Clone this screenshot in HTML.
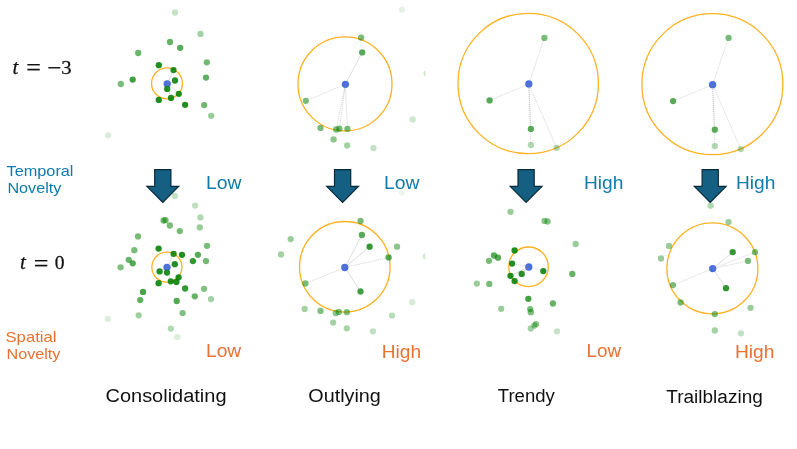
<!DOCTYPE html>
<html lang="en"><head><meta charset="utf-8"><title>Novelty taxonomy</title>
<style>html,body{margin:0;padding:0;background:#fff}svg{display:block}</style></head>
<body>
<svg width="797" height="449" viewBox="0 0 797 449">
<rect width="797" height="449" fill="#fff"/>
<g transform="translate(0,0.3)">
<circle cx="167" cy="83.1" r="15.45" fill="none" stroke="#FFA500" stroke-opacity="0.87" stroke-width="1.3"/>
<circle cx="167.2" cy="83.5" r="3.65" fill="#4169E1" fill-opacity="0.96"/>
<circle cx="345" cy="83.6" r="47" fill="none" stroke="#FFA500" stroke-opacity="0.87" stroke-width="1.3"/>
<circle cx="345.4" cy="84" r="3.65" fill="#4169E1" fill-opacity="0.96"/>
<circle cx="528.2" cy="83.2" r="70.2" fill="none" stroke="#FFA500" stroke-opacity="0.87" stroke-width="1.3"/>
<circle cx="528.8" cy="83.7" r="3.65" fill="#4169E1" fill-opacity="0.96"/>
<circle cx="712.4" cy="83.9" r="70.5" fill="none" stroke="#FFA500" stroke-opacity="0.87" stroke-width="1.3"/>
<circle cx="712.6" cy="84.4" r="3.65" fill="#4169E1" fill-opacity="0.96"/>
<circle cx="166.9" cy="266.8" r="15.05" fill="none" stroke="#FFA500" stroke-opacity="0.87" stroke-width="1.3"/>
<circle cx="167" cy="267" r="3.65" fill="#4169E1" fill-opacity="0.96"/>
<circle cx="344.8" cy="266.5" r="45.3" fill="none" stroke="#FFA500" stroke-opacity="0.87" stroke-width="1.3"/>
<circle cx="344.8" cy="267.2" r="3.65" fill="#4169E1" fill-opacity="0.96"/>
<circle cx="528.5" cy="266.5" r="19.8" fill="none" stroke="#FFA500" stroke-opacity="0.87" stroke-width="1.3"/>
<circle cx="528.8" cy="266.7" r="3.65" fill="#4169E1" fill-opacity="0.96"/>
<circle cx="712.4" cy="268.1" r="45.5" fill="none" stroke="#FFA500" stroke-opacity="0.87" stroke-width="1.3"/>
<circle cx="712.7" cy="268.3" r="3.65" fill="#4169E1" fill-opacity="0.96"/>
<g fill="#008000">
<circle cx="175" cy="12.2" r="3.15" fill-opacity="0.22"/>
<circle cx="200.5" cy="33.6" r="3.15" fill-opacity="0.36"/>
<circle cx="170" cy="41.7" r="3.15" fill-opacity="0.6"/>
<circle cx="180.2" cy="47.5" r="3.15" fill-opacity="0.66"/>
<circle cx="138.2" cy="52.7" r="3.15" fill-opacity="0.58"/>
<circle cx="158.8" cy="64.9" r="3.15" fill-opacity="0.88"/>
<circle cx="173.5" cy="69.8" r="3.15" fill-opacity="0.88"/>
<circle cx="206.8" cy="62" r="3.15" fill-opacity="0.55"/>
<circle cx="206" cy="77.3" r="3.15" fill-opacity="0.62"/>
<circle cx="175" cy="80.2" r="3.15" fill-opacity="0.88"/>
<circle cx="132.7" cy="79.3" r="3.15" fill-opacity="0.75"/>
<circle cx="120.8" cy="83.7" r="3.15" fill-opacity="0.52"/>
<circle cx="167.2" cy="88.6" r="3.15" fill-opacity="0.88"/>
<circle cx="178.8" cy="93.5" r="3.15" fill-opacity="0.88"/>
<circle cx="171" cy="97.6" r="3.15" fill-opacity="0.88"/>
<circle cx="158.8" cy="99.6" r="3.15" fill-opacity="0.88"/>
<circle cx="185.1" cy="104.5" r="3.15" fill-opacity="0.88"/>
<circle cx="204.2" cy="104.8" r="3.15" fill-opacity="0.56"/>
<circle cx="211.2" cy="115.5" r="3.15" fill-opacity="0.4"/>
<circle cx="108.1" cy="135.0" r="3.15" fill-opacity="0.15"/>
<circle cx="401.9" cy="9.3" r="3.15" fill-opacity="0.1"/>
<circle cx="361.1" cy="37.3" r="3.15" fill-opacity="0.53"/>
<circle cx="362.2" cy="52.1" r="3.15" fill-opacity="0.66"/>
<circle cx="305.8" cy="100.5" r="3.15" fill-opacity="0.53"/>
<circle cx="320.5" cy="127.6" r="3.15" fill-opacity="0.53"/>
<circle cx="336.2" cy="129.2" r="3.15" fill-opacity="0.53"/>
<circle cx="339.4" cy="128.4" r="3.15" fill-opacity="0.53"/>
<circle cx="347.4" cy="128.5" r="3.15" fill-opacity="0.53"/>
<circle cx="333.6" cy="139.1" r="3.15" fill-opacity="0.46"/>
<circle cx="347.2" cy="145.2" r="3.15" fill-opacity="0.36"/>
<circle cx="373.5" cy="147.8" r="3.15" fill-opacity="0.24"/>
<circle cx="412.6" cy="119.1" r="3.15" fill-opacity="0.19"/>
<circle cx="401.8" cy="192.0" r="3.15" fill-opacity="0.07"/>
<circle cx="544.4" cy="37.6" r="3.15" fill-opacity="0.53"/>
<circle cx="489.6" cy="100.1" r="3.15" fill-opacity="0.66"/>
<circle cx="530.9" cy="128.6" r="3.15" fill-opacity="0.66"/>
<circle cx="530.9" cy="144.7" r="3.15" fill-opacity="0.31"/>
<circle cx="556.6" cy="147.5" r="3.15" fill-opacity="0.31"/>
<circle cx="728.6" cy="37.6" r="3.15" fill-opacity="0.53"/>
<circle cx="673.1" cy="100.8" r="3.15" fill-opacity="0.66"/>
<circle cx="714.8" cy="129.4" r="3.15" fill-opacity="0.66"/>
<circle cx="714.8" cy="145.8" r="3.15" fill-opacity="0.31"/>
<circle cx="740.8" cy="148.8" r="3.15" fill-opacity="0.31"/>
<circle cx="174.8" cy="195.6" r="3.15" fill-opacity="0.24"/>
<circle cx="195.1" cy="205.3" r="3.15" fill-opacity="0.25"/>
<circle cx="200.4" cy="217.1" r="3.15" fill-opacity="0.31"/>
<circle cx="199.8" cy="227.1" r="3.15" fill-opacity="0.4"/>
<circle cx="163.6" cy="220.2" r="3.15" fill-opacity="0.53"/>
<circle cx="165.5" cy="219.9" r="3.15" fill-opacity="0.53"/>
<circle cx="169.8" cy="225.2" r="3.15" fill-opacity="0.53"/>
<circle cx="179.8" cy="230.8" r="3.15" fill-opacity="0.53"/>
<circle cx="138" cy="236.1" r="3.15" fill-opacity="0.53"/>
<circle cx="207" cy="245.5" r="3.15" fill-opacity="0.53"/>
<circle cx="134.3" cy="249.9" r="3.15" fill-opacity="0.53"/>
<circle cx="158.6" cy="248.3" r="3.15" fill-opacity="0.88"/>
<circle cx="173.6" cy="253.6" r="3.15" fill-opacity="0.88"/>
<circle cx="182" cy="254.5" r="3.15" fill-opacity="0.88"/>
<circle cx="197.9" cy="254.5" r="3.15" fill-opacity="0.66"/>
<circle cx="128.7" cy="259.5" r="3.15" fill-opacity="0.58"/>
<circle cx="132.7" cy="263" r="3.15" fill-opacity="0.68"/>
<circle cx="120.6" cy="267" r="3.15" fill-opacity="0.5"/>
<circle cx="192.9" cy="260.8" r="3.15" fill-opacity="0.82"/>
<circle cx="206" cy="260.8" r="3.15" fill-opacity="0.55"/>
<circle cx="174.8" cy="263.9" r="3.15" fill-opacity="0.88"/>
<circle cx="159.6" cy="271.1" r="3.15" fill-opacity="0.88"/>
<circle cx="167" cy="272.3" r="3.15" fill-opacity="0.88"/>
<circle cx="178.6" cy="277" r="3.15" fill-opacity="0.88"/>
<circle cx="170.8" cy="281" r="3.15" fill-opacity="0.88"/>
<circle cx="176.4" cy="281.7" r="3.15" fill-opacity="0.88"/>
<circle cx="158.6" cy="282.9" r="3.15" fill-opacity="0.88"/>
<circle cx="185.1" cy="288.2" r="3.15" fill-opacity="0.8"/>
<circle cx="204.1" cy="288.5" r="3.15" fill-opacity="0.5"/>
<circle cx="143" cy="291.6" r="3.15" fill-opacity="0.72"/>
<circle cx="194.8" cy="296" r="3.15" fill-opacity="0.6"/>
<circle cx="211" cy="298.8" r="3.15" fill-opacity="0.36"/>
<circle cx="140.2" cy="299.8" r="3.15" fill-opacity="0.62"/>
<circle cx="176.7" cy="300.7" r="3.15" fill-opacity="0.68"/>
<circle cx="182.6" cy="312.8" r="3.15" fill-opacity="0.5"/>
<circle cx="138.7" cy="315" r="3.15" fill-opacity="0.38"/>
<circle cx="107.8" cy="318.7" r="3.15" fill-opacity="0.14"/>
<circle cx="170.8" cy="328.3" r="3.15" fill-opacity="0.31"/>
<circle cx="177.3" cy="336.8" r="3.15" fill-opacity="0.14"/>
<circle cx="360.5" cy="220.7" r="3.15" fill-opacity="0.53"/>
<circle cx="361.9" cy="234.7" r="3.15" fill-opacity="0.66"/>
<circle cx="369.6" cy="246.4" r="3.15" fill-opacity="0.8"/>
<circle cx="397" cy="246.4" r="3.15" fill-opacity="0.45"/>
<circle cx="388.6" cy="257.1" r="3.15" fill-opacity="0.66"/>
<circle cx="290.7" cy="238.8" r="3.15" fill-opacity="0.4"/>
<circle cx="281" cy="254.1" r="3.15" fill-opacity="0.36"/>
<circle cx="305.4" cy="283.2" r="3.15" fill-opacity="0.53"/>
<circle cx="360.5" cy="291.2" r="3.15" fill-opacity="0.75"/>
<circle cx="304.7" cy="308.6" r="3.15" fill-opacity="0.36"/>
<circle cx="320.5" cy="310.6" r="3.15" fill-opacity="0.5"/>
<circle cx="335.8" cy="312.9" r="3.15" fill-opacity="0.45"/>
<circle cx="338.8" cy="311.6" r="3.15" fill-opacity="0.5"/>
<circle cx="346.8" cy="311.9" r="3.15" fill-opacity="0.5"/>
<circle cx="333.1" cy="322.3" r="3.15" fill-opacity="0.36"/>
<circle cx="346.8" cy="328" r="3.15" fill-opacity="0.34"/>
<circle cx="372.9" cy="331" r="3.15" fill-opacity="0.25"/>
<circle cx="392" cy="315.3" r="3.15" fill-opacity="0.28"/>
<circle cx="412.3" cy="301.9" r="3.15" fill-opacity="0.16"/>
<circle cx="510.5" cy="211.5" r="3.15" fill-opacity="0.4"/>
<circle cx="544.5" cy="220.6" r="3.15" fill-opacity="0.46"/>
<circle cx="547.6" cy="221.2" r="3.15" fill-opacity="0.46"/>
<circle cx="575.7" cy="243.7" r="3.15" fill-opacity="0.4"/>
<circle cx="514.6" cy="250.2" r="3.15" fill-opacity="0.88"/>
<circle cx="494" cy="255.2" r="3.15" fill-opacity="0.66"/>
<circle cx="498" cy="257.4" r="3.15" fill-opacity="0.66"/>
<circle cx="489" cy="260.5" r="3.15" fill-opacity="0.53"/>
<circle cx="512.1" cy="263.3" r="3.15" fill-opacity="0.88"/>
<circle cx="543.3" cy="270.8" r="3.15" fill-opacity="0.88"/>
<circle cx="521.7" cy="273.6" r="3.15" fill-opacity="0.88"/>
<circle cx="510.5" cy="275.5" r="3.15" fill-opacity="0.88"/>
<circle cx="514.6" cy="280.8" r="3.15" fill-opacity="0.88"/>
<circle cx="572.3" cy="273.6" r="3.15" fill-opacity="0.6"/>
<circle cx="476.8" cy="283.3" r="3.15" fill-opacity="0.4"/>
<circle cx="489.3" cy="283.6" r="3.15" fill-opacity="0.53"/>
<circle cx="528.3" cy="298.5" r="3.15" fill-opacity="0.75"/>
<circle cx="552.9" cy="303.2" r="3.15" fill-opacity="0.6"/>
<circle cx="501.2" cy="308.5" r="3.15" fill-opacity="0.4"/>
<circle cx="530.2" cy="308.8" r="3.15" fill-opacity="0.53"/>
<circle cx="530.8" cy="311.9" r="3.15" fill-opacity="0.53"/>
<circle cx="534.4" cy="325.2" r="3.15" fill-opacity="0.42"/>
<circle cx="536" cy="323.8" r="3.15" fill-opacity="0.45"/>
<circle cx="530.8" cy="328.2" r="3.15" fill-opacity="0.36"/>
<circle cx="557" cy="331" r="3.15" fill-opacity="0.22"/>
<circle cx="710.6" cy="205.4" r="3.15" fill-opacity="0.31"/>
<circle cx="728.5" cy="221.8" r="3.15" fill-opacity="0.4"/>
<circle cx="669" cy="245.6" r="3.15" fill-opacity="0.4"/>
<circle cx="661" cy="258.2" r="3.15" fill-opacity="0.4"/>
<circle cx="732.7" cy="251.9" r="3.15" fill-opacity="0.8"/>
<circle cx="755" cy="251.9" r="3.15" fill-opacity="0.53"/>
<circle cx="748" cy="260.6" r="3.15" fill-opacity="0.53"/>
<circle cx="672.9" cy="284.8" r="3.15" fill-opacity="0.53"/>
<circle cx="726" cy="287.9" r="3.15" fill-opacity="0.82"/>
<circle cx="680.6" cy="302.2" r="3.15" fill-opacity="0.53"/>
<circle cx="714.8" cy="313.8" r="3.15" fill-opacity="0.53"/>
<circle cx="750.5" cy="307.5" r="3.15" fill-opacity="0.4"/>
<circle cx="714.8" cy="330.2" r="3.15" fill-opacity="0.36"/>
<circle cx="741" cy="333" r="3.15" fill-opacity="0.24"/>
<clipPath id="edge"><rect x="400" y="0" width="25.4" height="449"/></clipPath>
<circle cx="426.6" cy="73.1" r="3.15" fill-opacity="0.2" clip-path="url(#edge)"/>
<circle cx="425.9" cy="256" r="3.15" fill-opacity="0.18" clip-path="url(#edge)"/>
</g>
<g stroke="#808080" stroke-opacity="0.43" stroke-width="0.65" fill="none">
<line x1="167.2" y1="83.5" x2="173.5" y2="69.8"/>
<line x1="167.2" y1="83.5" x2="175" y2="80.2"/>
<line x1="167.2" y1="83.5" x2="167.2" y2="88.6"/>
<line x1="167.2" y1="83.5" x2="178.8" y2="93.5"/>
<line x1="167.2" y1="83.5" x2="171" y2="97.6"/>
<line x1="345.4" y1="84" x2="362.2" y2="52.1"/>
<line x1="345.4" y1="84" x2="305.8" y2="100.5" stroke-dasharray="1.3 0.7"/>
<line x1="345.4" y1="84" x2="336.2" y2="129.2" stroke-dasharray="1.3 0.7"/>
<line x1="345.4" y1="84" x2="339.4" y2="128.4" stroke-dasharray="1.3 0.7"/>
<line x1="345.4" y1="84" x2="347.4" y2="128.5" stroke-dasharray="1.3 0.7"/>
<line x1="528.8" y1="83.7" x2="544.4" y2="37.6" stroke-dasharray="1.3 0.7"/>
<line x1="528.8" y1="83.7" x2="489.6" y2="100.1" stroke-dasharray="1.3 0.7"/>
<line x1="528.8" y1="83.7" x2="530.9" y2="128.6" stroke-dasharray="1.3 0.7"/>
<line x1="528.8" y1="83.7" x2="530.9" y2="144.7" stroke-dasharray="1.3 0.7"/>
<line x1="528.8" y1="83.7" x2="556.6" y2="147.5" stroke-dasharray="1.3 0.7"/>
<line x1="712.6" y1="84.4" x2="728.6" y2="37.6" stroke-dasharray="1.3 0.7"/>
<line x1="712.6" y1="84.4" x2="673.1" y2="100.8" stroke-dasharray="1.3 0.7"/>
<line x1="712.6" y1="84.4" x2="714.8" y2="129.4" stroke-dasharray="1.3 0.7"/>
<line x1="712.6" y1="84.4" x2="714.8" y2="145.8" stroke-dasharray="1.3 0.7"/>
<line x1="712.6" y1="84.4" x2="740.8" y2="148.8" stroke-dasharray="1.3 0.7"/>
<line x1="167" y1="267" x2="173.6" y2="253.6"/>
<line x1="167" y1="267" x2="174.8" y2="263.9"/>
<line x1="167" y1="267" x2="159.6" y2="271.1"/>
<line x1="167" y1="267" x2="167" y2="272.3"/>
<line x1="167" y1="267" x2="170.8" y2="281"/>
<line x1="344.8" y1="267.2" x2="361.9" y2="234.7"/>
<line x1="344.8" y1="267.2" x2="369.6" y2="246.4"/>
<line x1="344.8" y1="267.2" x2="388.6" y2="257.1" stroke-dasharray="1.3 0.7"/>
<line x1="344.8" y1="267.2" x2="305.4" y2="283.2" stroke-dasharray="1.3 0.7"/>
<line x1="344.8" y1="267.2" x2="360.5" y2="291.2"/>
<line x1="528.8" y1="266.7" x2="512.1" y2="263.3" stroke-dasharray="1.3 0.7"/>
<line x1="528.8" y1="266.7" x2="543.3" y2="270.8" stroke-dasharray="1.3 0.7"/>
<line x1="528.8" y1="266.7" x2="521.7" y2="273.6"/>
<line x1="528.8" y1="266.7" x2="510.5" y2="275.5"/>
<line x1="528.8" y1="266.7" x2="514.6" y2="280.8"/>
<line x1="712.7" y1="268.3" x2="732.7" y2="251.9"/>
<line x1="712.7" y1="268.3" x2="755" y2="251.9" stroke-dasharray="1.3 0.7"/>
<line x1="712.7" y1="268.3" x2="748" y2="260.6" stroke-dasharray="1.3 0.7"/>
<line x1="712.7" y1="268.3" x2="672.9" y2="284.8" stroke-dasharray="1.3 0.7"/>
<line x1="712.7" y1="268.3" x2="726" y2="287.9"/>
</g>
</g>
<path d="M154.70000000000002,169.7 H170.9 V186.3 H178.70000000000002 L162.8,202.4 L146.9,186.3 H154.70000000000002 Z" fill="#156082" stroke="#082838" stroke-width="1.2" stroke-linejoin="miter"/>
<path d="M334.5,169.7 H350.70000000000005 V186.3 H358.5 L342.6,202.4 L326.70000000000005,186.3 H334.5 Z" fill="#156082" stroke="#082838" stroke-width="1.2" stroke-linejoin="miter"/>
<path d="M518.0,169.7 H534.2 V186.3 H542.0 L526.1,202.4 L510.20000000000005,186.3 H518.0 Z" fill="#156082" stroke="#082838" stroke-width="1.2" stroke-linejoin="miter"/>
<path d="M702.1,169.7 H718.3000000000001 V186.3 H726.1 L710.2,202.4 L694.3000000000001,186.3 H702.1 Z" fill="#156082" stroke="#082838" stroke-width="1.2" stroke-linejoin="miter"/>
<text x="6.5" y="175.6" font-size="14.2" fill="#0F7BAB" font-family="'Liberation Sans', Arial, sans-serif" textLength="67" lengthAdjust="spacingAndGlyphs">Temporal</text>
<text x="7.4" y="192.9" font-size="14.2" fill="#0F7BAB" font-family="'Liberation Sans', Arial, sans-serif" textLength="54" lengthAdjust="spacingAndGlyphs">Novelty</text>
<text x="5.5" y="341.8" font-size="14.2" fill="#E97132" font-family="'Liberation Sans', Arial, sans-serif" textLength="51" lengthAdjust="spacingAndGlyphs">Spatial</text>
<text x="6.45" y="359" font-size="14.2" fill="#E97132" font-family="'Liberation Sans', Arial, sans-serif" textLength="54" lengthAdjust="spacingAndGlyphs">Novelty</text>
<text x="206" y="188.9" font-size="17.5" fill="#0F7BAB" font-family="'Liberation Sans', Arial, sans-serif" textLength="35.5" lengthAdjust="spacingAndGlyphs">Low</text>
<text x="384" y="188.9" font-size="17.5" fill="#0F7BAB" font-family="'Liberation Sans', Arial, sans-serif" textLength="35.5" lengthAdjust="spacingAndGlyphs">Low</text>
<text x="584" y="188.9" font-size="17.5" fill="#0F7BAB" font-family="'Liberation Sans', Arial, sans-serif" textLength="39.4" lengthAdjust="spacingAndGlyphs">High</text>
<text x="736" y="188.9" font-size="17.5" fill="#0F7BAB" font-family="'Liberation Sans', Arial, sans-serif" textLength="39.4" lengthAdjust="spacingAndGlyphs">High</text>
<text x="206.0" y="357.0" font-size="17.5" fill="#E97132" font-family="'Liberation Sans', Arial, sans-serif" textLength="35.2" lengthAdjust="spacingAndGlyphs">Low</text>
<text x="381.7" y="357.5" font-size="17.5" fill="#E97132" font-family="'Liberation Sans', Arial, sans-serif" textLength="39.4" lengthAdjust="spacingAndGlyphs">High</text>
<text x="586.6" y="357.4" font-size="17.5" fill="#E97132" font-family="'Liberation Sans', Arial, sans-serif" textLength="34.6" lengthAdjust="spacingAndGlyphs">Low</text>
<text x="735" y="357.5" font-size="17.5" fill="#E97132" font-family="'Liberation Sans', Arial, sans-serif" textLength="39.4" lengthAdjust="spacingAndGlyphs">High</text>
<text x="105.5" y="402.3" font-size="18" fill="#111111" font-family="'Liberation Sans', Arial, sans-serif" textLength="121" lengthAdjust="spacingAndGlyphs">Consolidating</text>
<text x="308.3" y="402.3" font-size="18" fill="#111111" font-family="'Liberation Sans', Arial, sans-serif" textLength="72.5" lengthAdjust="spacingAndGlyphs">Outlying</text>
<text x="497.8" y="402.3" font-size="18" fill="#111111" font-family="'Liberation Sans', Arial, sans-serif" textLength="57" lengthAdjust="spacingAndGlyphs">Trendy</text>
<text x="666.3" y="402.5" font-size="18" fill="#111111" font-family="'Liberation Sans', Arial, sans-serif" textLength="96.5" lengthAdjust="spacingAndGlyphs">Trailblazing</text>
<text transform="translate(12.5,73.6) scale(1,1)" font-size="21" fill="#111" stroke="#111" stroke-width="0.25" font-family="'Liberation Serif', 'Times New Roman', serif" font-style="italic">t</text>
<text transform="translate(26.3,75.9) scale(1,1)" font-size="26" fill="#111" stroke="#111" stroke-width="0.25" font-family="'Liberation Serif', 'Times New Roman', serif">=</text>
<text transform="translate(47.15,75.6) scale(1,1)" font-size="25" fill="#111" stroke="#111" stroke-width="0.25" font-family="'Liberation Serif', 'Times New Roman', serif">−</text>
<text transform="translate(61.2,73.5) scale(1.09,1)" font-size="19" fill="#111" stroke="#111" stroke-width="0.25" font-family="'Liberation Serif', 'Times New Roman', serif">3</text>
<text transform="translate(20,269.1) scale(1,1)" font-size="21" fill="#111" stroke="#111" stroke-width="0.25" font-family="'Liberation Serif', 'Times New Roman', serif" font-style="italic">t</text>
<text transform="translate(33.8,271.9) scale(1,1)" font-size="26" fill="#111" stroke="#111" stroke-width="0.25" font-family="'Liberation Serif', 'Times New Roman', serif">=</text>
<text transform="translate(54.7,269) scale(1.03,1)" font-size="19" fill="#111" stroke="#111" stroke-width="0.25" font-family="'Liberation Serif', 'Times New Roman', serif">0</text>
</svg>
</body></html>
